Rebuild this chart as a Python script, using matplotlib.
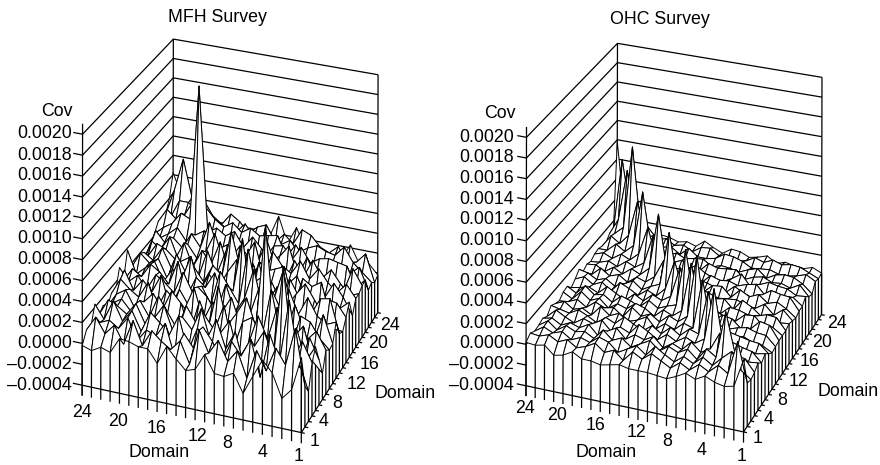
"""
Covariance surfaces for two surveys, 24 domains each.
Both matrices are symmetric, so only the upper triangle is kept (units of 1e-5).
"""
import numpy as np
import matplotlib
matplotlib.use("Agg")
import matplotlib.pyplot as plt

plt.rcParams["font.family"] = ["Liberation Sans", "DejaVu Sans"]

W, H = 880, 465
DOMAINS = list(range(1, 25))
Z_TICKS = [-0.0004, -0.0002, 0.0, 0.0002, 0.0004, 0.0006, 0.0008, 0.0010, 0.0012,
           0.0014, 0.0016, 0.0018, 0.0020]
DOMAIN_TICKS = [1, 4, 8, 12, 16, 20, 24]

MFH_ROWS = [
    [30, -2, -12, 10, 20, 3, -15, 2, -3, -2, 14, -2, -5, 4, 14, -4, 8, 8, 11, 12, -3, 0, -5, -2],
    [50, 14, 28, 5, 22, -6, 18, 6, 24, 10, 30, -4, 16, 6, 12, 20, 4, 26, 2, 18, 8, 22, 8],
    [70, 10, 34, -8, 26, 8, 20, -2, 16, 28, 6, 18, -6, 24, 10, 14, 2, 22, 10, 16, 12, 5],
    [95, 8, 30, 14, -10, 24, 6, 32, 12, 20, -4, 28, 8, 18, 26, 6, 24, 12, 30, 10, 23],
    [50, 18, 38, 10, -6, 28, 14, 4, 34, 12, 22, 6, 30, 16, 8, 26, 14, 20, 24, 8],
    [60, 12, 30, 24, -4, 36, 10, 22, 14, 28, 4, 18, 32, 10, 24, 12, 22, 16, 12],
    [115, 16, 42, 26, 12, 48, 8, 30, -2, 24, 34, 14, 28, 18, 10, 26, 20, 6],
    [50, 22, 8, 34, 18, 26, 6, 36, 14, 20, 28, 8, 32, 16, 22, 30, 14],
    [60, 30, 14, 40, 10, 24, 32, 12, 26, 6, 36, 18, 28, 16, 34, 10],
    [73, 18, 32, 46, 12, 28, 20, 38, 16, 24, 30, 14, 26, 18, 30],
    [77, 24, 14, 38, 22, 30, 10, 42, 18, 28, 34, 20, 26, 12],
    [50, 36, 18, 30, 12, 44, 20, 28, 14, 32, 24, 16, 38],
    [71, 26, 34, 16, 28, 22, 38, 12, 30, 24, 32, 16],
    [45, 20, 42, 14, 32, 26, 18, 36, 22, 28, 14],
    [48, 24, 36, 18, 40, 22, 30, 34, 20, 10],
    [50, 30, 22, 34, 16, 38, 24, 30, 6],
    [55, 28, 40, 24, 32, 26, 36, 12],
    [40, 34, 26, 38, 30, 24, 15],
    [180, 44, 48, 36, 30, 22],
    [58, 42, 36, 44, 30],
    [50, 50, 32, 18],
    [88, 55, 28],
    [55, 40],
    [62],
]

OHC_ROWS = [
    [28, 1, -1, 1, 5, 0, 4, -1, -5, -4, -3, -3, -3, -1, -3, -5, -3, -3, 2, -3, -5, 3, 1, 2],
    [38, 6, 12, 4, 9, 2, 7, 0, 5, 10, 3, 8, -2, 6, 2, 9, 4, 1, 7, 3, 8, 5, 6],
    [22, 14, 5, 11, 3, 8, 1, 6, 12, 2, 9, 4, -1, 7, 10, 3, 6, 2, 8, 5, 9, 3],
    [53, 8, 14, 2, 10, 5, 9, 3, 11, 6, 1, 8, 4, 12, 2, 7, 5, 9, 3, 10, 4],
    [26, 9, 4, 12, 3, 7, 1, 10, 5, 8, 2, 11, 6, 0, 9, 4, 7, 3, 8, 6],
    [62, 12, 6, 10, 4, 9, 2, 8, 13, 3, 7, 1, 10, 5, 8, 2, 6, 11, 3],
    [53, 10, 13, 5, 11, 3, 9, 2, 7, 12, 4, 8, 1, 6, 10, 5, 7, 9],
    [58, 9, 12, 4, 8, 1, 11, 6, 3, 9, 5, 12, 2, 7, 4, 10, 6],
    [75, 14, 7, 11, 3, 9, 5, 12, 1, 8, 6, 10, 3, 9, 5, 4],
    [61, 13, 6, 10, 2, 8, 11, 4, 7, 1, 9, 5, 12, 3, 8],
    [68, 12, 9, 5, 11, 3, 7, 10, 2, 8, 6, 13, 4, 9],
    [44, 14, 8, 12, 4, 9, 1, 6, 11, 3, 7, 5, 3],
    [44, 15, 6, 10, 3, 8, 12, 2, 9, 5, 11, 7],
    [66, 13, 9, 4, 11, 6, 2, 8, 5, 10, 12],
    [32, 14, 7, 10, 3, 9, 6, 12, 4, 5],
    [72, 16, 8, 12, 5, 10, 4, 9, 8],
    [44, 15, 9, 13, 6, 10, 7, 6],
    [46, 18, 10, 14, 8, 12, 9],
    [76, 20, 12, 18, 10, 10],
    [60, 24, 14, 20, 8],
    [110, 26, 18, 7],
    [80, 28, 12],
    [85, 11],
    [98],
]


def to_matrix(rows):
    n = len(rows)
    m = np.zeros((n, n))
    for i, row in enumerate(rows):
        m[i, i:] = row
        m[i:, i] = row
    return m * 1e-5


def fit_view(corners, ax, left_px):
    # two-point perspective of the plot box, fitted on the box corners in pixels
    a_rows, b_vals = [], []
    for (a, b, c), (u, v) in corners:
        a_rows.append([a, b, c, 1, 0, 0, 0, 0, -u * a, -u * b])
        b_vals.append(u)
        a_rows.append([0, 0, 0, 0, a, b, c, 1, -v * a, -v * b])
        b_vals.append(v)
    p = np.linalg.lstsq(np.array(a_rows), np.array(b_vals), rcond=None)[0]
    P = np.array([[p[0], p[1], p[2], p[3]],
                  [p[4], p[5], p[6], p[7]],
                  [p[8], p[9], 0, 1]])
    # data (domain, domain, cov) to box coordinates
    N = np.array([[1 / 23, 0, 0, -1 / 23],
                  [0, 1 / 23, 0, -1 / 23],
                  [0, 0, 1 / 0.0024, 0.0004 / 0.0024],
                  [0, 0, 0, 1]])
    vl = ax.viewLim
    sx = (vl.x1 - vl.x0) / H
    sy = (vl.y1 - vl.y0) / H
    A = np.array([[sx, 0, vl.x0 - left_px * sx],
                  [0, -sy, vl.y0 + H * sy],
                  [0, 0, 1]])
    top = A @ P
    M = np.vstack([top[0], top[1], [1, 1, 0.001, 0], top[2]])
    return M @ N


def draw_panel(fig, left_px, cov, corners, labels):
    ax = fig.add_axes([left_px / W, 0, H / W, 1], projection="3d", computed_zorder=False)
    ax.set_axis_off()
    ax.patch.set_visible(False)
    ax.set_proj_type("ortho")  # keeps Line3D from clipping on view depth
    M = fit_view(corners, ax, left_px)
    ax.get_proj = lambda: M

    ink = dict(color="black", lw=0.9, solid_capstyle="butt")
    # wall lines, only above the base of the surface
    for z in Z_TICKS[2:]:
        ax.plot([24, 24, 1], [1, 24, 24], [z, z, z], zorder=1, **ink)
    ax.plot([24, 24], [24, 24], [0, 0.0020], zorder=1, **ink)
    ax.plot([1, 1], [24, 24], [-0.0004, 0.0020], zorder=1, **ink)

    # cov axis on the left corner
    ax.plot([24, 24], [1, 1], [-0.0005, 0.0021], zorder=1, **ink)
    for z in Z_TICKS:
        ax.plot([24, 25], [1, 1], [z, z], zorder=1, **ink)

    # curtain lines along both front edges
    for k, d in enumerate(DOMAINS):
        ax.plot([d, d], [1, 1], [cov[0, k], -0.0005], zorder=2, **ink)
        ax.plot([1, 1], [d, d], [cov[k, 0], -0.0004], zorder=2, **ink)
        ax.plot([1, 0.65], [d, d], [-0.0004, -0.0004], zorder=2, **ink)

    X, Y = np.meshgrid(DOMAINS, DOMAINS, indexing="ij")
    ax.plot_surface(X, Y, cov, rstride=1, cstride=1, color="white", edgecolor="black",
                    linewidth=0.7, shade=False, antialiased=True, zorder=3)

    # floor edges
    ax.plot([24, 1, 1], [1, 1, 24], [-0.0004, -0.0004, -0.0004], zorder=4, **ink)

    size = 12.8
    def put(px, py, s, **kw):
        kw.setdefault("ha", "center")
        fig.text(px / W, 1 - py / H, s, va="center", fontsize=size, **kw)

    put(*labels["title"], labels["name"])
    put(*labels["cov"], "Cov")
    put(*labels["xlab"], "Domain")
    put(*labels["ylab"], "Domain")
    for z, py in zip(Z_TICKS, labels["z_py"]):
        txt = f"{abs(z):.4f}"
        if z < 0:
            txt = "\u2013" + txt
        put(labels["z_right"], py, txt, ha="right")
    for d, pos in zip(DOMAIN_TICKS, labels["x_pos"]):
        put(*pos, str(d))
    for d, pos in zip(DOMAIN_TICKS, labels["y_pos"]):
        put(*pos, str(d))
    return ax


mfh_corners = [((0, 0, 0), (301, 433)), ((1, 0, 0), (82, 385)), ((1, 0, 1), (83, 134)),
               ((0, 1, 0), (378, 312)), ((0, 1, 1), (378, 75)),
               ((1, 1, 0), (173, 272)), ((1, 1, 1), (173, 39))]
ohc_corners = [((0, 0, 0), (743, 433)), ((1, 0, 0), (526, 385)), ((1, 0, 1), (527, 137)),
               ((0, 1, 0), (822, 313)), ((0, 1, 1), (822, 78)),
               ((1, 1, 0), (617, 276)), ((1, 1, 1), (617, 43))]

mfh_labels = dict(
    name="MFH Survey", title=(217, 17), cov=(57, 111), xlab=(159, 452), ylab=(405, 393),
    z_right=72, z_py=[385, 364, 343, 322, 301, 280, 259, 238, 218, 197, 176, 155, 134],
    x_pos=[(299, 456), (263, 452), (227, 443), (197, 436), (156, 428), (118, 422), (82, 412)],
    y_pos=[(315, 441), (324, 422), (337, 403), (356, 384), (369, 364), (378, 344), (390, 325)],
)
ohc_labels = dict(
    name="OHC Survey", title=(660, 19), cov=(500, 114), xlab=(606, 452), ylab=(848, 391),
    z_right=514, z_py=[385, 364, 344, 323, 302, 281, 261, 240, 219, 199, 178, 157, 137],
    x_pos=[(742, 456), (702, 450), (667, 441), (636, 432), (595, 425), (557, 415), (525, 408)],
    y_pos=[(758, 438), (769, 419), (782, 400), (798, 381), (809, 361), (822, 342), (837, 323)],
)

fig = plt.figure(figsize=(W / 100, H / 100), dpi=100)
draw_panel(fig, 0, to_matrix(MFH_ROWS), mfh_corners, mfh_labels)
draw_panel(fig, W - H, to_matrix(OHC_ROWS), ohc_corners, ohc_labels)
fig.savefig("out.png", dpi=100)
